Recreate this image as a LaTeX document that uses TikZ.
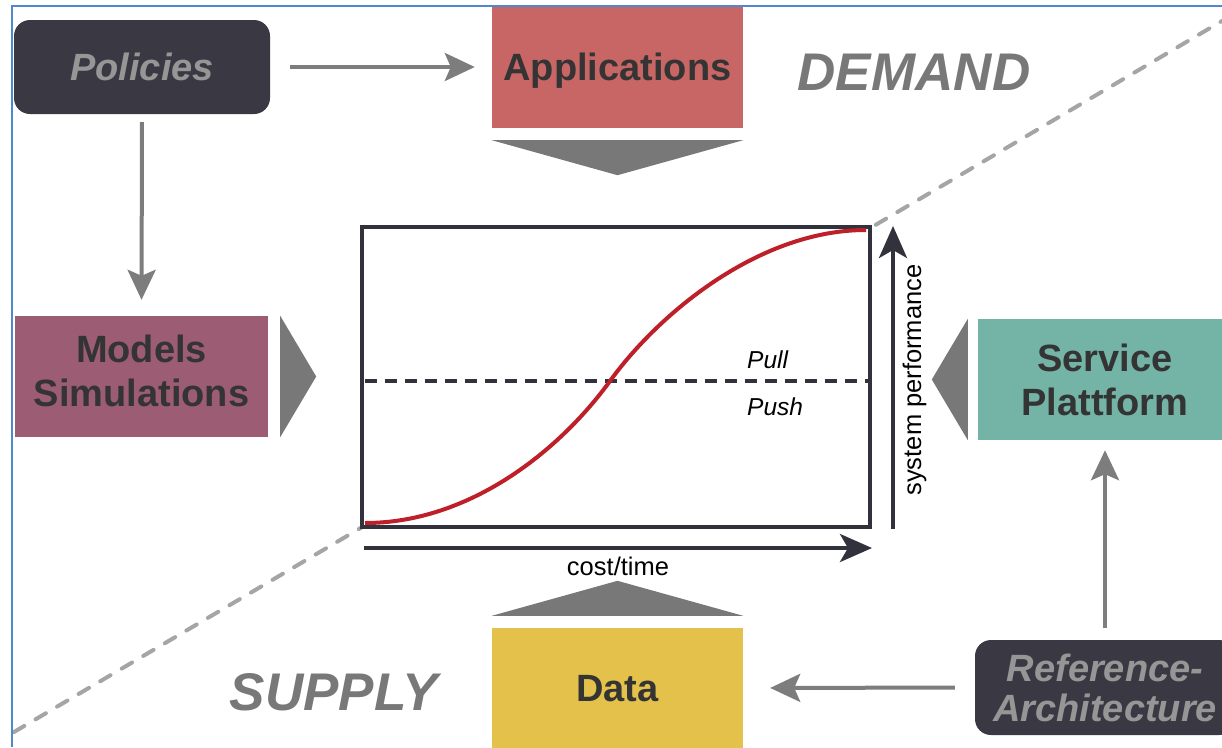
\documentclass[tikz,border=0pt]{standalone}
\usepackage{fontspec}
\setmainfont{Liberation Sans}
\usetikzlibrary{arrows.meta}
\definecolor{boxdark}{RGB}{58,56,66}
\definecolor{txtdark}{RGB}{52,52,52}
\definecolor{txtgray}{RGB}{150,150,150}
\definecolor{biggray}{RGB}{120,120,120}
\definecolor{arrgray}{RGB}{125,125,125}
\definecolor{appred}{RGB}{200,102,102}
\definecolor{modpurple}{RGB}{156,92,116}
\definecolor{servteal}{RGB}{116,180,166}
\definecolor{datayellow}{RGB}{228,193,74}
\definecolor{framedark}{RGB}{50,50,60}
\definecolor{curvered}{RGB}{190,32,42}
\definecolor{dashgray}{RGB}{165,165,165}
\definecolor{borderblue}{RGB}{80,135,205}
\begin{document}
\begin{tikzpicture}[x=1pt,y=-1pt,
  boxtext/.style={inner sep=0pt, align=center, text=txtdark,
    font=\bfseries\fontsize{38}{44}\selectfont, text height=27pt, text depth=0pt},
  darkbox/.style={boxtext, fill=boxdark, rounded corners=16pt, text=txtgray,
    font=\bfseries\itshape\fontsize{38}{40}\selectfont},
  bigword/.style={inner sep=0pt, text=biggray, font=\bfseries\itshape\fontsize{53}{53}\selectfont},
  conn/.style={draw=arrgray, line width=4pt, -{Stealth[length=30pt,width=28pt,inset=6pt]}},
  axis/.style={draw=framedark, line width=4pt, -{Stealth[length=32pt,width=28pt,inset=8pt]}},
  chevron/.style={fill=biggray},
  small/.style={inner sep=0pt, text=black, font=\fontsize{25.5}{25.5}\selectfont},
  smallit/.style={inner sep=0pt, text=black, font=\itshape\fontsize{24.5}{24.5}\selectfont},
  diag/.style={draw=dashgray, line width=4pt, line cap=round, dash pattern=on 12pt off 13pt}]
\useasboundingbox (0,0) rectangle (1222,747);
\clip (0,0) rectangle (1222,747);

% supply/demand divider
\draw[diag] (14,732) -- (1222,21);

% boxes
\node[boxtext, fill=appred, minimum width=251, minimum height=122] (app) at (617.5,67) {Applications};
\node[darkbox, minimum width=256, minimum height=94] (pol) at (142,67) {Policies};
\node[boxtext, fill=modpurple, minimum width=253, minimum height=121, text height=71pt, text depth=12pt] (mod) at (141.5,376.5) {Models\\Simulations};
\node[boxtext, fill=servteal, minimum width=254, minimum height=121, text height=71pt, text depth=0pt] (serv) at (1105,379.5) {Service\\Plattform};
\node[darkbox, minimum width=260, minimum height=95, text height=67pt, text depth=0pt] (ref) at (1105,687.5) {Reference-\\Architecture};
\node[boxtext, fill=datayellow, minimum width=251, minimum height=120] (data) at (617.5,688) {Data};

\node[bigword, anchor=base] (demand) at (914,90) {DEMAND};
\node[bigword, anchor=base] (supply) at (334,710) {SUPPLY};

% chevrons
\fill[chevron] ([yshift=-12]app.south west) -- ([yshift=-12]app.south east) -- ([yshift=-47]app.south) -- cycle;
\fill[chevron] ([yshift=12]data.north west) -- ([yshift=12]data.north east) -- ([yshift=47]data.north) -- cycle;
\fill[chevron] ([xshift=12]mod.north east) -- ([xshift=12]mod.south east) -- ([xshift=48]mod.east) -- cycle;
\fill[chevron] ([xshift=-10]serv.north west) -- ([xshift=-10]serv.south west) -- ([xshift=-46]serv.west) -- cycle;

% chart
\node[draw=framedark, line width=4pt, fill=white, minimum width=508, minimum height=300, inner sep=0pt] (chart) at (616,377) {};
\draw[framedark, line width=3.5pt, dash pattern=on 12pt off 8pt] (365,381) -- (868,381);
\draw[curvered, line width=4pt] (365,523) .. controls (470,523) and (560,450) .. (610,381)
  .. controls (660,312) and (760,230) .. (866,230);
\node[smallit, anchor=base west] (pull) at (747,368) {Pull};
\node[smallit, anchor=base west] (push) at (747,415) {Push};

\coordinate (xs) at (364,548);
\coordinate (xe) at (872,548);
\coordinate (ys) at (893,529);
\coordinate (ye) at (893,226);
\draw[axis] (xs) -- (xe);
\draw[axis] (ys) -- (ye);
\node[small, anchor=base] (xlab) at (618,575) {cost/time};
\node[small, rotate=90, anchor=base] (ylab) at (921,380) {system performance};

% connectors
\draw[conn, shorten <=20pt, shorten >=17pt] (pol.east) -- (app.west);
\draw[conn, shorten <=8pt, shorten >=16pt] (pol.south) -- (mod.north);
\draw[conn, shorten <=20pt, shorten >=27pt] (ref.west) -- (data.east);
\draw[conn, shorten <=12pt, shorten >=10pt] (ref.north) -- (serv.south);

% frame
\draw[borderblue, line width=1.5pt] (12,747) -- (12,6) -- (1222,6);
\end{tikzpicture}
\end{document}
